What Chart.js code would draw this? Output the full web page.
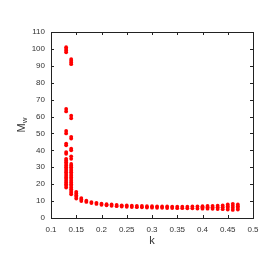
<!DOCTYPE html>
<html>
<head>
<meta charset="utf-8">
<script src="https://cdn.jsdelivr.net/npm/chart.js@4/dist/chart.umd.min.js"></script>
<style>
    html, body { margin: 0; padding: 0; background: #fff; }
    #wrap { width: 273px; height: 273px; }
</style>
</head>
<body>
<div id="wrap"><canvas id="chart" width="273" height="273"></canvas></div>
<script>
// k column positions and the Mw values read at each column
const kValues = [0.13, 0.14, 0.15, 0.16, 0.17, 0.18, 0.19, 0.20, 0.21, 0.22, 0.23, 0.24, 0.25,
    0.26, 0.27, 0.28, 0.29, 0.30, 0.31, 0.32, 0.33, 0.34, 0.35, 0.36, 0.37, 0.38, 0.39,
    0.40, 0.41, 0.42, 0.43, 0.44, 0.45, 0.46, 0.47];

const mwColumns = [
    [18, 19, 20, 21, 22, 23, 24, 25, 26, 27, 28, 29, 30, 31, 32, 33, 34, 35, 38, 39, 43, 44, 50, 51.5, 63, 64.5, 98, 99, 100, 101],
    [14, 15, 16, 17, 18, 19, 20, 21, 22, 23, 24, 25, 26, 27, 28, 29, 30, 31, 32, 35, 36.5, 40, 41, 47, 48, 59, 60.5, 91, 92, 93, 94],
    [11.5, 12.5, 13.5, 14.5, 15.5],
    [10, 11, 11.8],
    [9.5, 10.2],
    [8.8, 9.4],
    [8.3, 9],
    [7.8, 8.5],
    [7.5, 8.2],
    [7.2, 8],
    [7, 7.7],
    [6.8, 7.5],
    [6.6, 7.4],
    [6.5, 7.3],
    [6.4, 7.2],
    [6.3, 7.1],
    [6.2, 7],
    [6.1, 7],
    [6, 6.9],
    [6, 6.8],
    [5.9, 6.8],
    [5.9, 6.7],
    [5.8, 6.7],
    [5.8, 6.7],
    [5.7, 6.7],
    [5.7, 6.8],
    [5.6, 6.8],
    [5.5, 6.3, 7],
    [5.5, 6.3, 7.1],
    [5.4, 6.3, 7.2],
    [5.3, 6.3, 7.3],
    [5.2, 6.3, 7.4],
    [5, 6, 7, 8],
    [4.8, 6, 7.2, 8.4],
    [5, 6, 7, 8]
];

const xTicks = [0.1, 0.15, 0.2, 0.25, 0.3, 0.35, 0.4, 0.45, 0.5];
const yTicks = [0, 10, 20, 30, 40, 50, 60, 70, 80, 90, 100, 110];

const points = [];
kValues.forEach((k, i) => {
    mwColumns[i].forEach(mw => points.push({ x: k, y: mw }));
});

const tickFont = { family: 'Liberation Sans, Arial, sans-serif', size: 8 };
const textColor = '#333';

// gnuplot-like frame: full border, inward ticks mirrored on all sides, axis titles
const framePlugin = {
    id: 'frame',
    afterDraw(chart) {
        const ctx = chart.ctx;
        const a = chart.chartArea;
        const xs = chart.scales.x;
        const ys = chart.scales.y;
        const len = 3;
        ctx.save();
        ctx.strokeStyle = '#222';
        ctx.lineWidth = 1;
        ctx.strokeRect(Math.round(a.left) + 0.5, Math.round(a.top) + 0.5,
            Math.round(a.right - a.left), Math.round(a.bottom - a.top));
        ctx.beginPath();
        xTicks.forEach(v => {
            const px = Math.round(xs.getPixelForValue(v)) + 0.5;
            ctx.moveTo(px, a.bottom); ctx.lineTo(px, a.bottom - len);
            ctx.moveTo(px, a.top); ctx.lineTo(px, a.top + len);
        });
        yTicks.forEach(v => {
            const py = Math.round(ys.getPixelForValue(v)) + 0.5;
            ctx.moveTo(a.left, py); ctx.lineTo(a.left + len, py);
            ctx.moveTo(a.right, py); ctx.lineTo(a.right - len, py);
        });
        ctx.stroke();

        ctx.fillStyle = textColor;
        ctx.font = '11px Liberation Sans, Arial, sans-serif';
        ctx.textAlign = 'center';
        ctx.textBaseline = 'middle';
        ctx.fillText('k', (a.left + a.right) / 2, a.bottom + 23);

        // y title: M with subscript w, rotated
        ctx.translate(22, (a.top + a.bottom) / 2);
        ctx.rotate(-Math.PI / 2);
        ctx.textAlign = 'left';
        const mW = ctx.measureText('M').width;
        ctx.font = '8px Liberation Sans, Arial, sans-serif';
        const wW = ctx.measureText('w').width;
        const start = -(mW + wW) / 2;
        ctx.font = '11px Liberation Sans, Arial, sans-serif';
        ctx.fillText('M', start, 0);
        ctx.font = '8px Liberation Sans, Arial, sans-serif';
        ctx.fillText('w', start + mW, 3);
        ctx.restore();
    }
};

new Chart(document.getElementById('chart'), {
    type: 'scatter',
    data: {
        datasets: [{
            data: points,
            backgroundColor: '#ff0000',
            borderWidth: 0,
            pointRadius: 1.9,
            pointHoverRadius: 1.9
        }]
    },
    options: {
        responsive: false,
        animation: false,
        layout: { padding: { left: 0, top: 32, right: 20, bottom: 0 } },
        plugins: { legend: { display: false }, tooltip: { enabled: false } },
        scales: {
            x: {
                type: 'linear',
                min: 0.1,
                max: 0.5,
                afterBuildTicks: scale => { scale.ticks = xTicks.map(v => ({ value: v })); },
                afterFit: scale => { scale.height = 55; },
                grid: { display: false, drawTicks: false, tickLength: 0 },
                border: { display: false },
                ticks: {
                    font: tickFont,
                    color: textColor,
                    padding: 7,
                    maxRotation: 0,
                    callback: v => String(+v.toFixed(2))
                }
            },
            y: {
                type: 'linear',
                min: 0,
                max: 110,
                afterBuildTicks: scale => { scale.ticks = yTicks.map(v => ({ value: v })); },
                afterFit: scale => { scale.width = 51; },
                grid: { display: false, drawTicks: false, tickLength: 0 },
                border: { display: false },
                ticks: { font: tickFont, color: textColor, padding: 6 }
            }
        }
    },
    plugins: [framePlugin]
});
</script>
</body>
</html>
